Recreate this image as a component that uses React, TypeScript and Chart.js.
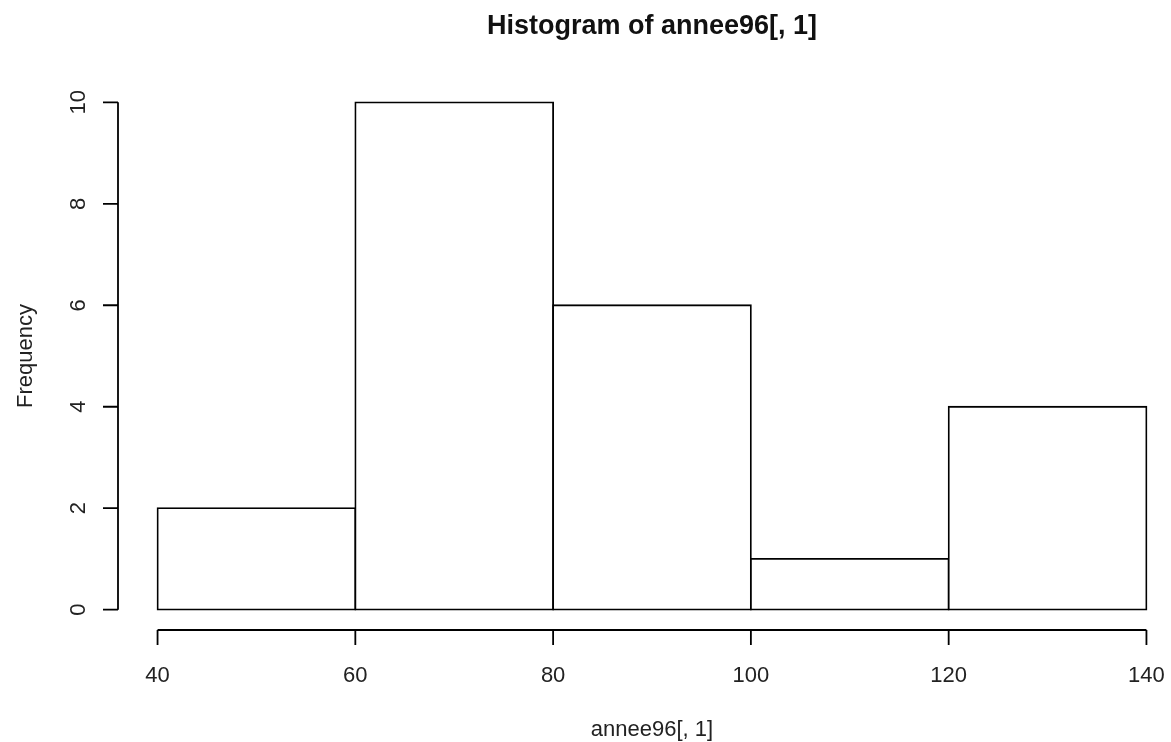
import React, { useEffect, useRef } from "react";
import { Chart, registerables } from "chart.js";

Chart.register(...registerables);

const binStarts = [40, 60, 80, 100, 120];
const binWidth = 20;
const frequencies = [2, 10, 6, 1, 4];
const xTicks = [40, 60, 80, 100, 120, 140];
const yTicks = [0, 2, 4, 6, 8, 10];
const titleText = "Histogram of annee96[, 1]";
const xTitle = "annee96[, 1]";
const yTitle = "Frequency";

const FONT = '"Liberation Sans", Arial, sans-serif';

const rAxesPlugin = {
  id: "rAxes",
  afterDraw(chart: any) {
    const ctx = chart.ctx;
    const xs = chart.scales.x;
    const ys = chart.scales.y;
    const area = chart.chartArea;
    ctx.save();
    ctx.strokeStyle = "#000";
    ctx.fillStyle = "#222";
    ctx.lineWidth = 1.8;
    const tick = 15;
    // y axis
    const yAxisX = area.left;
    ctx.beginPath();
    ctx.moveTo(yAxisX, ys.getPixelForValue(yTicks[0]));
    ctx.lineTo(yAxisX, ys.getPixelForValue(yTicks[yTicks.length - 1]));
    yTicks.forEach((v) => {
      const py = ys.getPixelForValue(v);
      ctx.moveTo(yAxisX, py);
      ctx.lineTo(yAxisX - tick, py);
    });
    ctx.stroke();
    ctx.font = `22px ${FONT}`;
    ctx.textAlign = "center";
    ctx.textBaseline = "alphabetic";
    yTicks.forEach((v) => {
      const py = ys.getPixelForValue(v);
      ctx.save();
      ctx.translate(85, py);
      ctx.rotate(-Math.PI / 2);
      ctx.fillText(String(v), 0, 0);
      ctx.restore();
    });
    // x axis
    const xAxisY = area.bottom;
    ctx.beginPath();
    ctx.moveTo(xs.getPixelForValue(xTicks[0]), xAxisY);
    ctx.lineTo(xs.getPixelForValue(xTicks[xTicks.length - 1]), xAxisY);
    xTicks.forEach((v) => {
      const px = xs.getPixelForValue(v);
      ctx.moveTo(px, xAxisY);
      ctx.lineTo(px, xAxisY + tick);
    });
    ctx.stroke();
    xTicks.forEach((v) => {
      const px = xs.getPixelForValue(v);
      ctx.fillText(String(v), px, 682);
    });
    // axis titles
    const cx = (area.left + area.right) / 2;
    ctx.fillText(xTitle, cx, 736);
    ctx.save();
    ctx.translate(32, (area.top + area.bottom) / 2);
    ctx.rotate(-Math.PI / 2);
    ctx.fillText(yTitle, 0, 0);
    ctx.restore();
    // main title
    ctx.fillStyle = "#111";
    ctx.font = `bold 27px ${FONT}`;
    ctx.fillText(titleText, cx, 34);
    ctx.restore();
  },
};

export default function App() {
  const ref = useRef<HTMLCanvasElement>(null);
  useEffect(() => {
    if (!ref.current) return;
    const data = binStarts.map((s, i) => ({ x: s + binWidth / 2, y: frequencies[i] }));
    const chart = new Chart(ref.current, {
      type: "bar",
      data: {
        datasets: [
          {
            data: data as any,
            backgroundColor: "#ffffff",
            borderColor: "#000000",
            borderWidth: 1.8,
            borderSkipped: false,
            inflateAmount: 0.9,
            barPercentage: 1,
            categoryPercentage: 1,
          } as any,
        ],
      },
      options: {
        animation: false,
        responsive: false,
        devicePixelRatio: 1,
        layout: { padding: { left: 118, top: 82, right: 4, bottom: 112 } },
        plugins: { legend: { display: false }, tooltip: { enabled: false }, title: { display: false } },
        scales: {
          x: {
            type: "linear",
            display: false,
            offset: false,
            min: 36,
            max: 144,
            afterBuildTicks: (s: any) => {
              s.ticks = xTicks.map((v) => ({ value: v }));
            },
          },
          y: {
            type: "linear",
            display: false,
            min: -0.4,
            max: 10.4,
            afterBuildTicks: (s: any) => {
              s.ticks = yTicks.map((v) => ({ value: v }));
            },
          },
        },
      },
      plugins: [rAxesPlugin],
    });
    return () => chart.destroy();
  }, []);
  return (
    <div
      style={{
        position: "fixed",
        left: 0,
        top: 0,
        width: 1171,
        height: 742,
        overflow: "hidden",
        background: "#fff",
      }}
    >
      <canvas ref={ref} width={1190} height={742} style={{ display: "block" }} />
    </div>
  );
}
